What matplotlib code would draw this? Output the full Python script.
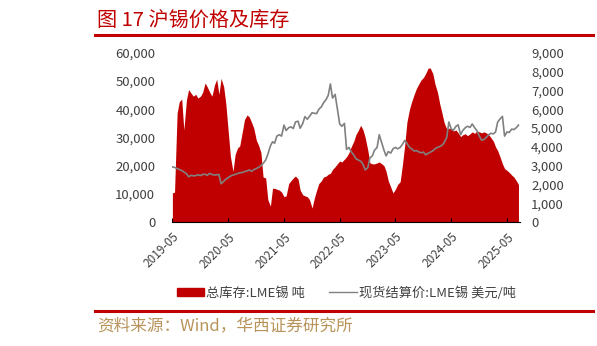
import matplotlib
matplotlib.use("Agg")
import matplotlib.pyplot as plt
import matplotlib.dates as mdates
from matplotlib.patches import Patch
from matplotlib.lines import Line2D
import pandas as pd

plt.rcParams['font.family'] = ['Noto Sans CJK SC', 'DejaVu Sans']

# 半月频率 2019-05-01 ~ 2025-07-16
dates = pd.date_range("2019-05-01", periods=150, freq="SMS")

# 总库存:LME锡 (吨) - 右轴
stock = [
    1550, 1600, 5800, 6400, 6550, 4900, 6500, 7050, 6850, 6700,
    6800, 6600, 6700, 6900, 7400, 7200, 6900, 6700, 7300, 7600,
    6800, 7650, 7200, 6300, 4800, 3500, 2700, 3600, 3950, 4050,
    4800, 5450, 5700, 5600, 5300, 5000, 4350, 4100, 3700, 2400,
    2350, 1200, 850, 1800, 1800, 1750, 1700, 1600, 1350, 1400,
    2050, 2200, 2350, 2450, 2300, 1700, 1450, 1400, 1350, 1200,
    750, 1250, 1700, 2050, 2200, 2400, 2450, 2550, 2600, 2800,
    2950, 3100, 3250, 3200, 3350, 3480, 3700, 4000, 4300, 4650,
    4900, 5150, 4900, 4500, 3830, 3150, 3100, 3100, 3150, 3200,
    3100, 3000, 2700, 2200, 1850, 1550, 1750, 2000, 2150, 3000,
    4100, 5300, 6000, 6400, 6800, 7100, 7350, 7550, 7700, 7900,
    8190, 8200, 7900, 7350, 6900, 6300, 5800, 5300, 4950, 5000,
    4950, 4850, 4900, 4750, 4550, 4650, 4700, 4600, 4700, 4800,
    4720, 4850, 4800, 4750, 4800, 4750, 4650, 4500, 4300, 4000,
    3800, 3500, 3100, 2850, 2750, 2650, 2500, 2400, 2200, 2000,
]

# 现货结算价:LME锡 (美元/吨) - 左轴
price = [
    19600, 19400, 19000, 18700, 18300, 17800, 17200, 16100, 16600, 16400,
    16500, 16800, 16500, 16900, 17000, 16600, 17300, 16900, 16700, 16800,
    16900, 13600, 14500, 15200, 15800, 16300, 16700, 16900, 17200, 17500,
    17600, 17900, 18200, 18500, 18000, 18600, 19000, 19400, 20000, 20800,
    22000, 24000, 27000, 28500, 28000, 30500, 31000, 30500, 34400, 32500,
    33500, 33800, 33200, 35500, 35800, 33300, 35000, 37400, 36500, 37500,
    38800, 38600, 38500, 40000, 40900, 42300, 43500, 45000, 49000, 44000,
    45300, 40500, 34800, 34000, 35000, 25800, 26500, 25000, 23800, 22500,
    22000, 21600, 20500, 18500, 19300, 22800, 23500, 25500, 26500, 31000,
    28000, 25500, 23500, 25000, 24500, 26000, 26500, 26000, 26500, 27500,
    29000, 28000, 26500, 26000, 25200, 25400, 24900, 24600, 24800, 23900,
    24400, 24800, 25300, 26000, 26500, 26800, 27200, 28200, 30000, 35500,
    33000, 32600, 34000, 34500, 31000, 32500, 33500, 34000, 33600, 34800,
    33500, 32500, 30500, 29100, 29300, 30000, 31000, 31500, 31300, 32000,
    35500, 36500, 37500, 30500, 32000, 31800, 33000, 32800, 33500, 34400,
]

xticks = pd.to_datetime(["2019-05-01", "2020-05-01", "2021-05-01", "2022-05-01",
                         "2023-05-01", "2024-05-01", "2025-05-01"])

red = "#C00000"
gray = "#808080"
txt = "#404040"

fig = plt.figure(figsize=(5.97, 3.46), dpi=100)
ax = fig.add_axes([0.288, 0.358, 0.583, 0.489])
ax2 = ax.twinx()

ax2.fill_between(dates, stock, 0, color=red, linewidth=0)
ax.plot(dates, price, color=gray, linewidth=1.2)

# 价格线画在库存面积之上
ax.set_zorder(ax2.get_zorder() + 1)
ax.patch.set_visible(False)

fmt = matplotlib.ticker.FuncFormatter(lambda v, p: f"{int(v):,}")
ax.set_ylim(0, 60000)
ax.set_yticks(range(0, 60001, 10000))
ax.yaxis.set_major_formatter(fmt)
ax2.set_ylim(0, 9000)
ax2.set_yticks(range(0, 9001, 1000))
ax2.yaxis.set_major_formatter(fmt)

ax.set_xlim(pd.Timestamp("2019-04-28"), pd.Timestamp("2025-07-25"))
ax.set_xticks(xticks)
ax.xaxis.set_major_formatter(mdates.DateFormatter("%Y-%m"))
for lbl in ax.get_xticklabels():
    lbl.set_rotation(45)
    lbl.set_ha("right")
    lbl.set_rotation_mode("anchor")

for a in (ax, ax2):
    for s in ("left", "right", "top", "bottom"):
        a.spines[s].set_visible(False)
ax.spines["bottom"].set_visible(True)
ax.spines["bottom"].set_color("black")
ax.spines["bottom"].set_linewidth(0.8)

ax.tick_params(axis="y", length=0, pad=12, labelsize=9.5, labelcolor=txt)
ax2.tick_params(axis="y", length=0, pad=8, labelsize=9.5, labelcolor=txt)
ax.tick_params(axis="x", direction="in", length=3, width=0.8, pad=6, labelsize=8.5, labelcolor=txt)

handles = [Patch(facecolor=red, edgecolor=red),
           Line2D([0], [0], color=gray, linewidth=1.0)]
labels = ["总库存:LME锡 吨", "现货结算价:LME锡 美元/吨"]
fig.legend(handles, labels, loc="center", bbox_to_anchor=(0.58, 0.153), ncol=2,
           frameon=False, fontsize=9.5, handlelength=2.1, handleheight=0.55,
           handletextpad=0.15, columnspacing=1.8, labelcolor=txt)

# 标题与来源
fig.text(0.162, 0.94, "图 17 沪锡价格及库存", color=red, fontsize=14.5,
         ha="left", va="center")
fig.add_artist(Line2D([0.159, 0.993], [0.9, 0.9], color=red, linewidth=2.2))
fig.add_artist(Line2D([0.159, 0.993], [0.102, 0.102], color=red, linewidth=2.2))
fig.text(0.162, 0.057, "资料来源：Wind，华西证券研究所", color="#B8935A", fontsize=12,
         ha="left", va="center")

fig.savefig("out.png", dpi=100)
